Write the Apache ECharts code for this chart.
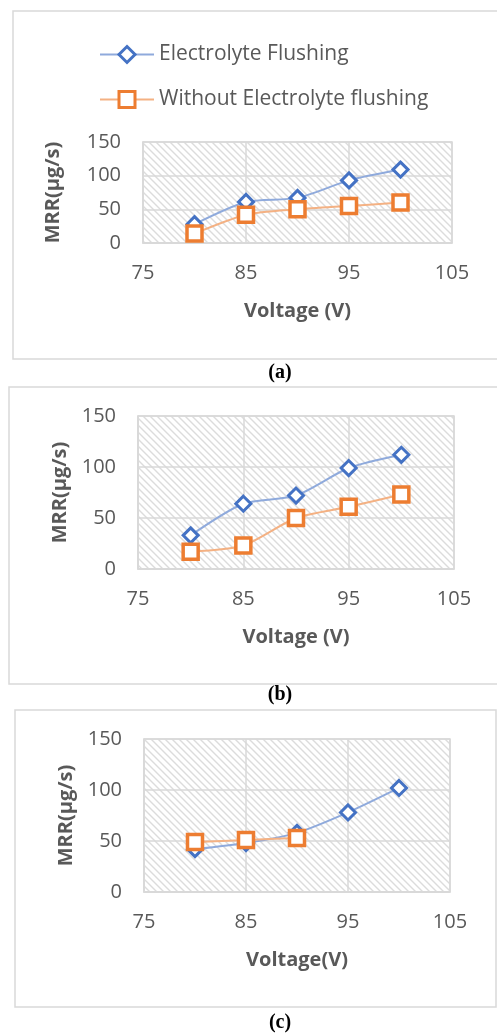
<!DOCTYPE html>
<html>
<head>
<meta charset="utf-8">
<script src="https://cdn.jsdelivr.net/npm/echarts@6/dist/echarts.min.js"></script>
<style>
html,body{margin:0;padding:0;background:#fff;}
#chart{width:497px;height:1033px;}
</style>
</head>
<body>
<div id="chart"></div>
<script>
// ---- data ----
var seriesNames = ['Electrolyte Flushing', 'Without Electrolyte flushing'];
var voltage = [80, 85, 90, 95, 100];
var voltageC2 = [80, 85, 90];
var aFlushing = [28, 61, 67, 93, 109];
var aWithout = [14, 42, 50, 55, 60];
var bFlushing = [33, 64, 72, 99, 112];
var bWithout = [17, 23, 50, 61, 73];
var cFlushing = [42, 48, 58, 78, 102];
var cWithout = [49, 51, 53];
var xTicks = [75, 85, 95, 105];
var yTicks = [0, 50, 100, 150];
var xNames = ['Voltage (V)', 'Voltage (V)', 'Voltage(V)'];
var yName = 'MRR(µg/s)';
var captions = ['(a)', '(b)', '(c)'];

function pairs(xs, ys) { return xs.map(function (x, i) { return [x, ys[i]]; }); }

// hatch pattern
var pc = document.createElement('canvas');
var S = 7;
pc.width = S; pc.height = S;
var g = pc.getContext('2d');
g.fillStyle = '#ffffff'; g.fillRect(0, 0, S, S);
g.strokeStyle = '#dcdcdc'; g.lineWidth = 1.4;
g.beginPath();
g.moveTo(-S, 0); g.lineTo(2 * S, 3 * S);
g.moveTo(0, -S); g.lineTo(3 * S, 2 * S);
g.moveTo(-S, -S); g.lineTo(2 * S, 2 * S);
g.moveTo(-2 * S, -S); g.lineTo(S, 2 * S);
g.stroke();
var hatch = { image: pc, repeat: 'repeat' };

var grey = '#d9d9d9';
var txt = '#595959';
var font = 'Open Sans';

var grids = [
  { left: 143, right: 45, top: 142, height: 101 },
  { left: 138, right: 43, top: 416, height: 153 },
  { left: 144, right: 47, top: 739, height: 153 }
];
var yNameGaps = [80, 68, 68];

var xAxes = [], yAxes = [];
grids.forEach(function (gr, i) {
  gr.show = true;
  gr.backgroundColor = hatch;
  gr.borderColor = grey;
  gr.borderWidth = 1.5;
  xAxes.push({
    type: 'value', gridIndex: i, min: xTicks[0], max: xTicks[xTicks.length - 1], interval: 10,
    axisLine: { show: true, lineStyle: { color: grey, width: 1.5 } },
    axisTick: { show: false },
    splitLine: { show: true, lineStyle: { color: grey, width: 1.5 } },
    axisLabel: { color: txt, fontFamily: font, fontSize: 20, margin: 20 },
    name: xNames[i], nameLocation: 'middle', nameGap: 58,
    nameTextStyle: { color: txt, fontFamily: font, fontSize: 20, fontWeight: 'bold' }
  });
  yAxes.push({
    type: 'value', gridIndex: i, min: yTicks[0], max: yTicks[yTicks.length - 1], interval: 50,
    axisLine: { show: true, lineStyle: { color: grey, width: 1.5 } },
    axisTick: { show: false },
    splitLine: { show: true, lineStyle: { color: grey, width: 1.5 } },
    axisLabel: { color: txt, fontFamily: font, fontSize: 20, margin: 22 },
    name: yName, nameLocation: 'middle', nameGap: yNameGaps[i],
    nameTextStyle: { color: txt, fontFamily: font, fontSize: 20, fontWeight: 'bold' }
  });
});

function flushSeries(i, data) {
  return {
    name: seriesNames[0], type: 'line', xAxisIndex: i, yAxisIndex: i, data: data,
    smooth: 0.25, symbol: 'diamond', symbolSize: 15,
    lineStyle: { color: '#8faadc', width: 2 },
    itemStyle: { color: '#ffffff', borderColor: '#4472c4', borderWidth: 3 },
    z: 2
  };
}
function withoutSeries(i, data) {
  return {
    name: seriesNames[1], type: 'line', xAxisIndex: i, yAxisIndex: i, data: data,
    smooth: 0.25, symbol: 'rect', symbolSize: 15,
    lineStyle: { color: '#f4b183', width: 2 },
    itemStyle: { color: '#ffffff', borderColor: '#ed7d31', borderWidth: 3.5 },
    z: 3
  };
}

var series = [
  flushSeries(0, pairs(voltage, aFlushing)),
  withoutSeries(0, pairs(voltage, aWithout)),
  flushSeries(1, pairs(voltage, bFlushing)),
  withoutSeries(1, pairs(voltage, bWithout)),
  flushSeries(2, pairs(voltage, cFlushing)),
  withoutSeries(2, pairs(voltageC2, cWithout))
];

var frames = [
  { x: 13, y: 11, w: 490, h: 348 },
  { x: 9, y: 387, w: 494, h: 297 },
  { x: 15, y: 710, w: 481, h: 297 }
];
var capY = [373, 695, 1023];
var graphic = [];
frames.forEach(function (f) {
  graphic.push({ type: 'rect', shape: { x: f.x, y: f.y, width: f.w, height: f.h }, style: { fill: null, stroke: grey, lineWidth: 1.5 }, silent: true, z: -10 });
});
captions.forEach(function (c, i) {
  graphic.push({ type: 'text', x: 280, y: capY[i], style: { text: c, fill: '#000', font: 'bold 20px "Liberation Serif"', textAlign: 'center', textVerticalAlign: 'middle' } });
});

var chart = echarts.init(document.getElementById('chart'), null, { renderer: 'canvas' });
chart.setOption({
  animation: false,
  backgroundColor: '#ffffff',
  grid: grids,
  xAxis: xAxes,
  yAxis: yAxes,
  legend: {
    data: seriesNames, orient: 'vertical', left: 94, top: 39,
    itemWidth: 54, itemHeight: 20, itemGap: 24,
    itemStyle: { borderWidth: 3 },
    textStyle: { color: txt, fontFamily: font, fontSize: 21, padding: [0, 0, 0, 0] }
  },
  graphic: graphic,
  series: series
});
</script>
</body>
</html>
